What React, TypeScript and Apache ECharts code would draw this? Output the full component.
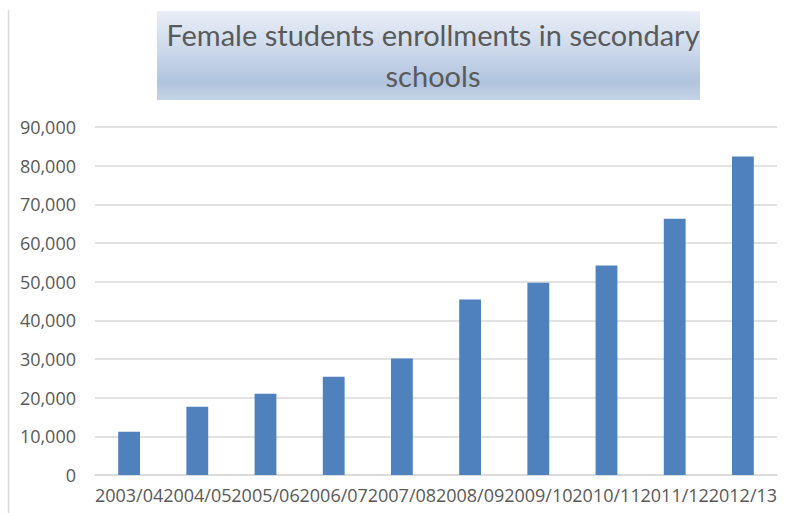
import React, { useEffect, useRef } from "react";
import * as echarts from "echarts";

const titleLines = ["Female students enrollments in secondary", "schools"];
const categories = [
  "2003/04", "2004/05", "2005/06", "2006/07", "2007/08",
  "2008/09", "2009/10", "2010/11", "2011/12", "2012/13",
];
const enrollments = [11200, 17650, 21000, 25400, 30150, 45400, 49750, 54150, 66300, 82350];
const yMax = 90000;
const yInterval = 10000;

export default function App() {
  const ref = useRef<HTMLDivElement>(null);
  useEffect(() => {
    if (!ref.current) return;
    const chart = echarts.init(ref.current, null, { renderer: "svg" });
    chart.setOption({
      animation: false,
      backgroundColor: "#ffffff",
      title: {
        text: titleLines.join("\n"),
        left: 428,
        top: 9,
        textAlign: "center",
        textStyle: {
          fontFamily: "Lato",
          fontSize: 29,
          fontWeight: "normal",
          color: "#5a5a5a",
          lineHeight: 41,
        },
      },
      graphic: [
        {
          type: "line",
          shape: { x1: 8.5, y1: 10, x2: 8.5, y2: 513 },
          style: { stroke: "#d9d9d9", lineWidth: 1.5 },
          z: -1,
        },
        {
          type: "rect",
          shape: { x: 157, y: 11, width: 543, height: 89 },
          style: {
            fill: new echarts.graphic.LinearGradient(0, 0, 0, 1, [
              { offset: 0, color: "#e9eef7" },
              { offset: 0.45, color: "#cbd8ea" },
              { offset: 0.8, color: "#b1c4de" },
              { offset: 1, color: "#c4d3e7" },
            ]),
          },
          z: -1,
        },
      ],
      grid: { left: 95, right: 13, top: 127, bottom: 38 },
      xAxis: {
        type: "category",
        data: categories,
        axisLine: { show: true, lineStyle: { color: "#d9d9d9", width: 1.5 } },
        axisTick: { show: false },
        axisLabel: {
          interval: 0,
          color: "#595959",
          fontFamily: "Open Sans",
          fontSize: 18,
          margin: 11,
        },
      },
      yAxis: {
        type: "value",
        min: 0,
        max: yMax,
        interval: yInterval,
        axisLine: { show: false },
        axisTick: { show: false },
        splitLine: { lineStyle: { color: "#d9d9d9", width: 1.5 } },
        axisLabel: {
          color: "#595959",
          fontFamily: "Open Sans",
          fontSize: 18,
          margin: 19,
          formatter: (v: number) => v.toLocaleString("en-US"),
        },
      },
      series: [
        {
          type: "bar",
          data: enrollments,
          barWidth: "32%",
          itemStyle: { color: "#4f81bd" },
        },
      ],
    });
    return () => chart.dispose();
  }, []);
  return <div ref={ref} style={{ width: 790, height: 513, position: "fixed", left: 0, top: 0 }} />;
}
